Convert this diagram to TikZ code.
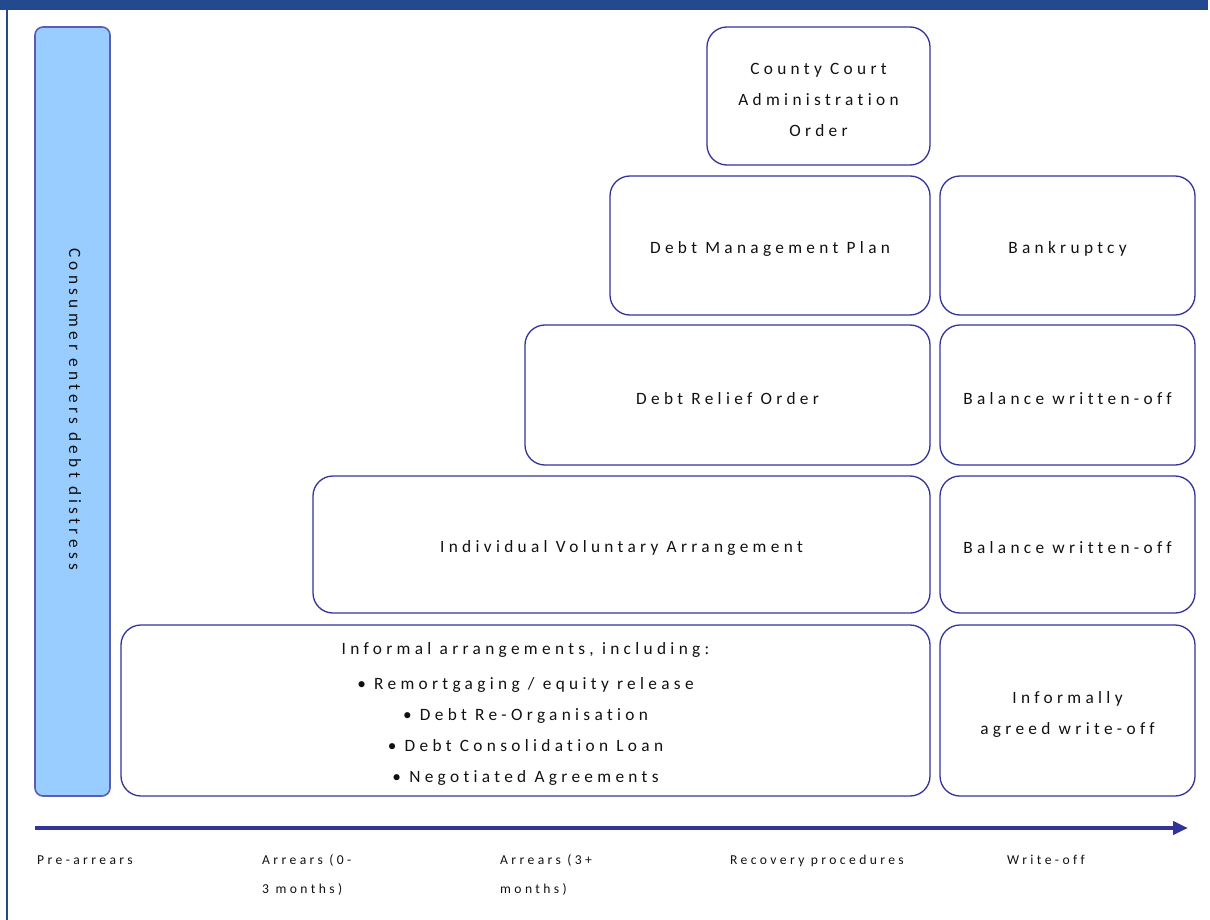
\documentclass[tikz,border=0pt]{standalone}
\usepackage{fontspec}
\setmainfont{Carlito}[LetterSpace=25, Ligatures=NoCommon]
\usetikzlibrary{arrows.meta}
\definecolor{framebl}{HTML}{234A8E}
\definecolor{boxline}{HTML}{33339C}
\definecolor{barfill}{HTML}{99CCFF}
\definecolor{barline}{HTML}{5C5CB8}
\definecolor{txt}{HTML}{111111}
\tikzset{
  box/.style={draw=boxline, line width=1.3pt, rounded corners=20pt, inner sep=0pt, outer sep=0pt},
  boxtext/.style={align=center, text=txt, inner sep=0pt, font=\fontsize{17.3}{31}\selectfont},
  sidebar/.style={draw=barline, fill=barfill, line width=1.6pt, rounded corners=8pt, inner sep=0pt, outer sep=0pt},
  axislabel/.style={anchor=base west, inner sep=0pt, text=txt, font=\fontsize{13.6}{29}\selectfont},
  axisarrow/.style={draw=boxline, line width=4pt, -{Triangle[length=15pt,width=13pt]}}
}
\newcommand{\twoline}[2]{\begin{tabular}[t]{@{}l@{}}#1\\#2\end{tabular}}
\begin{document}
\begin{tikzpicture}[x=1pt,y=-1pt]
\useasboundingbox (0,0) rectangle (1210,920);
% frame
\fill[framebl] (0,0) rectangle (1208,10);
\fill[framebl] (5.5,10) rectangle (7.5,920);
% left bar
\node[sidebar, minimum width=75pt, minimum height=769pt] (bar) at (72.5,411.5) {};
\node[boxtext, rotate=-90] (bartext) at (75,409) {Consumer enters debt distress};
% boxes
\node[box, minimum width=223pt, minimum height=138pt] (cc) at (818.5,96) {};
\node[box, minimum width=320pt, minimum height=139pt] (dmp) at (770,245.5) {};
\node[box, minimum width=255pt, minimum height=139pt] (bk) at (1067.5,245.5) {};
\node[box, minimum width=405pt, minimum height=140pt] (dro) at (727.5,395) {};
\node[box, minimum width=255pt, minimum height=140pt] (bw1) at (1067.5,395) {};
\node[box, minimum width=617pt, minimum height=137pt] (iva) at (621.5,544.5) {};
\node[box, minimum width=255pt, minimum height=137pt] (bw2) at (1067.5,544.5) {};
\node[box, minimum width=809pt, minimum height=171pt] (inf) at (525.5,710.5) {};
\node[box, minimum width=255pt, minimum height=171pt] (iaw) at (1067.5,710.5) {};
% box texts
\node[boxtext] (cc-t) at ([yshift=-3.5pt]cc.center) {County Court\\Administration\\Order};
\node[boxtext] (dmp-t) at ([yshift=-3.5pt]dmp.center) {Debt Management Plan};
\node[boxtext] (bk-t) at ([yshift=-3.5pt]bk.center) {Bankruptcy};
\node[boxtext] (dro-t) at ([yshift=-3.5pt]dro.center) {Debt Relief Order};
\node[boxtext] (bw1-t) at ([yshift=-3.5pt]bw1.center) {Balance written-off};
\node[boxtext] (iva-t) at ([yshift=-3.5pt]iva.center) {Individual Voluntary Arrangement};
\node[boxtext] (bw2-t) at ([yshift=-3.5pt]bw2.center) {Balance written-off};
\node[boxtext] (inf-t) at ([yshift=-3pt]inf.center) {Informal arrangements, including:\\[4pt]
  • Remortgaging / equity release\\
  • Debt Re-Organisation\\
  • Debt Consolidation Loan\\
  • Negotiated Agreements};
\node[boxtext] (iaw-t) at ([yshift=-3.5pt]iaw.center) {Informally\\agreed write-off};
% axis
\coordinate (axstart) at (35,828);
\coordinate (axend) at (1188,828);
\draw[axisarrow] (axstart) -- (axend);
\node[axislabel] (l1) at (37,864) {Pre-arrears};
\node[axislabel] (l2) at (262,864) {\twoline{Arrears (0-}{3 months)}};
\node[axislabel] (l3) at (500,864) {\twoline{Arrears (3+}{months)}};
\node[axislabel] (l4) at (730,864) {Recovery procedures};
\node[axislabel] (l5) at (1007,864) {Write-off};
\end{tikzpicture}
\end{document}
